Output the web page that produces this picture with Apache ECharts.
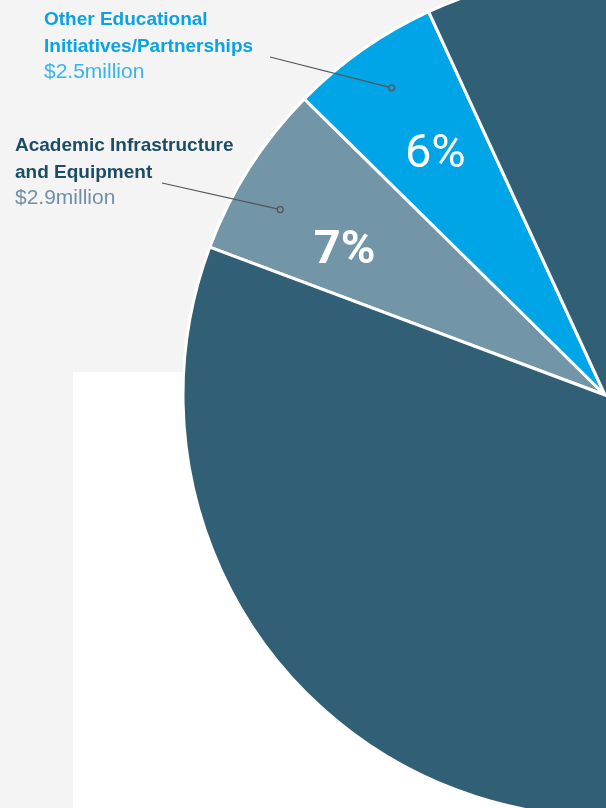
<!DOCTYPE html>
<html>
<head>
<meta charset="utf-8">
<script src="https://cdn.jsdelivr.net/npm/echarts@6/dist/echarts.min.js"></script>
<style>
  html, body { margin: 0; padding: 0; background: #f4f4f4; }
  #chart { width: 606px; height: 808px; }
</style>
</head>
<body>
<div id="chart"></div>
<script>
// Funding allocation, in millions
const categories = [
  'Academic Infrastructure\nand Equipment',
  'Other Educational\nInitiatives/Partnerships',
  'Allocation C',
  'Allocation D'
];
const values = [2.9, 2.5, 16.3, 21.7];
const labelled = [true, true, false, false];

const sliceColors = ['#7295a8', '#00a5e8', '#305f76', '#305f76'];
const titleColors = ['#1b4d63', '#0aa3e3'];
const amountColors = ['#6f90a6', '#3ab5ea'];

// pie geometry
const CX = 605, CY = 395, R = 422;
const START_ANGLE = 159.5;
const DOT_R = 374;
const DOT_SHIFT = [2.8, -0.3];
// callout text blocks: top-left corner and the point where each leader line starts
const CALLOUT = [
  { x: 15, y: 132, lineFrom: [162, 183] },
  { x: 44, y: 6, lineFrom: [270, 57] }
];
// nudges for the percentage labels
const PCT_SHIFT = [[-10, 16], [1, 3]];

const total = values.reduce((a, b) => a + b, 0);
const midAngles = [];
(function () {
  let a = START_ANGLE;
  values.forEach(v => {
    const span = v / total * 360;
    midAngles.push(a - span / 2);
    a -= span;
  });
})();
function polar(deg, r) {
  const t = deg * Math.PI / 180;
  return [CX + r * Math.cos(t), CY - r * Math.sin(t)];
}
const dots = [0, 1].map(i => polar(midAngles[i] + DOT_SHIFT[i], DOT_R));

const titleRich = {}, pctRich = {};
[0, 1].forEach(i => {
  titleRich['t' + i] = {
    fontFamily: 'Liberation Sans', fontWeight: 'bold', fontSize: 19,
    lineHeight: 27, color: titleColors[i]
  };
  titleRich['v' + i] = {
    fontFamily: 'Liberation Sans', fontWeight: 'normal', fontSize: 21,
    lineHeight: 25, color: amountColors[i]
  };
});
pctRich.p0 = { fontFamily: 'Roboto', fontSize: 47, fontWeight: 'bold', color: '#ffffff' };
pctRich.p1 = { fontFamily: 'Roboto', fontSize: 47, fontWeight: 'normal', color: '#ffffff' };

// leader lines and their end rings, drawn above the slices
const callouts = [];
[0, 1].forEach(i => {
  const from = CALLOUT[i].lineFrom, to = dots[i];
  const ux = to[0] - from[0], uy = to[1] - from[1];
  const len = Math.sqrt(ux * ux + uy * uy);
  const end = [to[0] - ux / len * 3, to[1] - uy / len * 3];
  callouts.push({
    type: 'line', z: 100, silent: true,
    shape: { x1: from[0], y1: from[1], x2: end[0], y2: end[1] },
    style: { stroke: '#555555', lineWidth: 1.2 }
  });
  callouts.push({
    type: 'circle', z: 100, silent: true,
    shape: { cx: to[0], cy: to[1], r: 3 },
    style: { fill: 'none', stroke: '#555555', lineWidth: 1.3 }
  });
});

const chart = echarts.init(document.getElementById('chart'), null, { renderer: 'canvas' });

chart.setOption({
  backgroundColor: '#f4f4f4',
  animation: false,
  graphic: [
    {
      type: 'rect', z: -10, silent: true,
      shape: { x: 73, y: 372, width: 533, height: 436 },
      style: { fill: '#ffffff' }
    }
  ].concat(callouts),
  series: [
    {
      type: 'pie',
      center: [CX, CY],
      radius: R,
      startAngle: START_ANGLE,
      clockwise: true,
      avoidLabelOverlap: false,
      silent: true,
      itemStyle: { borderColor: '#ffffff', borderWidth: 3 },
      data: values.map((v, i) => ({
        value: v,
        name: categories[i],
        itemStyle: { color: sliceColors[i] },
        label: { show: labelled[i] }
      })),
      label: {
        position: 'outside',
        formatter: p => {
          const i = p.dataIndex;
          const lines = p.name.split('\n').map(s => '{t' + i + '|' + s + '}');
          return lines.join('\n') + '\n{v' + i + '|$' + p.value + 'million}';
        },
        rich: titleRich
      },
      labelLine: { show: false },
      labelLayout: p => {
        const i = p.dataIndex;
        if (i > 1) return {};
        const c = CALLOUT[i];
        return { x: c.x, y: c.y, align: 'left', verticalAlign: 'top' };
      }
    },
    {
      // percentage labels, set further out than the default inside position
      type: 'pie',
      center: [CX, CY],
      radius: [166, R],
      startAngle: START_ANGLE,
      clockwise: true,
      silent: true,
      z: 3,
      itemStyle: { color: 'rgba(0,0,0,0)', borderWidth: 0 },
      data: values.map((v, i) => ({
        value: v,
        name: categories[i],
        label: { show: labelled[i] }
      })),
      label: {
        position: 'inside',
        formatter: p => '{p' + p.dataIndex + '|' + Math.round(p.percent) + '%}',
        rich: pctRich
      },
      labelLine: { show: false },
      labelLayout: p => {
        const s = PCT_SHIFT[p.dataIndex];
        return s ? { dx: s[0], dy: s[1] } : {};
      }
    }
  ]
});
</script>
</body>
</html>
